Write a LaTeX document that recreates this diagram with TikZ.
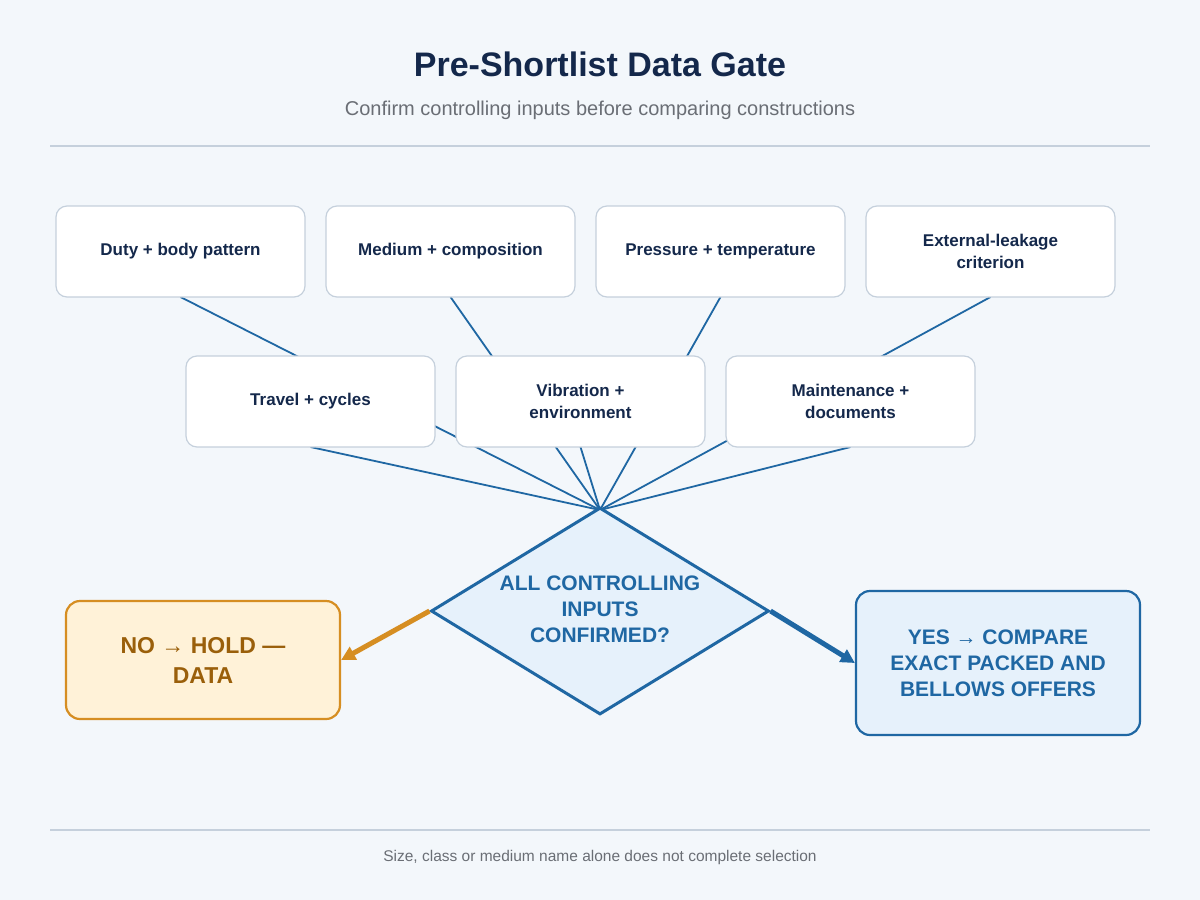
\documentclass[tikz,border=0pt]{standalone}
\usepackage{fontspec}
\setmainfont{Liberation Sans}
\usetikzlibrary{shapes.geometric,arrows.meta}
\definecolor{bg}{HTML}{F3F7FB}
\definecolor{navy}{HTML}{14284B}
\definecolor{blu}{HTML}{1F67A3}
\definecolor{gry}{HTML}{C5D0DC}
\definecolor{orn}{HTML}{D68E22}
\definecolor{ornt}{HTML}{9A5F0A}
\definecolor{ornf}{HTML}{FFF2D8}
\definecolor{bluf}{HTML}{E6F1FB}
\begin{document}
\begin{tikzpicture}[x=1pt,y=-1pt,
  inp/.style={draw=gry,line width=1.2pt,fill=white,rounded corners=11pt,minimum width=249pt,minimum height=91pt,align=center,font=\fontsize{17}{22}\selectfont\bfseries,text=navy},
  feed/.style={draw=blu,line width=1.8pt},
  res/.style={rounded corners=14pt,line width=2.2pt,align=center,font=\fontsize{21}{26}\selectfont\bfseries},
  arr/.style={line width=5pt,-{Triangle[length=14pt,width=14pt]}}]
\fill[bg] (0,0) rectangle (1200,900);
\useasboundingbox (0,0) rectangle (1200,900);
\node (title) at (600,64) {\fontsize{34}{38}\selectfont\bfseries\color{navy}Pre-Shortlist Data Gate};
\node (sub) at (600,110) {\fontsize{20}{23}\selectfont\color{gray!80!navy}Confirm controlling inputs before comparing constructions};
\draw[gry,line width=1.2pt] (50,146) -- (1150,146);
\draw[gry,line width=1.2pt] (50,830) -- (1150,830);
\node (foot) at (600,857) {\fontsize{15.5}{18}\selectfont\color{gray!80!navy}Size, class or medium name alone does not complete selection};
\coordinate (top) at (600,510);
\coordinate (a1) at (180.5,297); \coordinate (a2) at (450.5,297);
\coordinate (a3) at (720.5,297); \coordinate (a4) at (990.5,297);
\coordinate (b1) at (310.5,447); \coordinate (b2) at (580.5,447); \coordinate (b3) at (850.5,447);
\foreach \c in {a1,a2,a3,a4,b1,b2,b3} \draw[feed] (\c) -- (top);
\node[inp] (n1) at (180.5,251.5) {Duty + body pattern};
\node[inp] (n2) at (450.5,251.5) {Medium + composition};
\node[inp] (n3) at (720.5,251.5) {Pressure + temperature};
\node[inp] (n4) at (990.5,251.5) {External-leakage\\criterion};
\node[inp] (m1) at (310.5,401.5) {Travel + cycles};
\node[inp] (m2) at (580.5,401.5) {Vibration +\\environment};
\node[inp] (m3) at (850.5,401.5) {Maintenance +\\documents};
\node[diamond,draw=blu,line width=3pt,fill=bluf,minimum width=338pt,minimum height=207pt,inner sep=0pt] (d) at (600,611) {};
\node[align=center,font=\fontsize{21}{26}\selectfont\bfseries,text=blu] (dt) at (600,609) {ALL CONTROLLING\\INPUTS\\CONFIRMED?};
\node[res,draw=orn,fill=ornf,text=ornt,minimum width=274pt,minimum height=118pt,font=\fontsize{23}{30}\selectfont\bfseries] (no) at (203,660) {NO → HOLD —\\DATA};
\node[res,draw=blu,fill=bluf,text=blu,minimum width=284pt,minimum height=144pt] (yes) at (998,663) {YES → COMPARE\\EXACT PACKED AND\\BELLOWS OFFERS};
\draw[arr,orn] (d.west) -- (no.east);
\draw[arr,blu] (d.east) -- (yes.west);
\end{tikzpicture}
\end{document}
